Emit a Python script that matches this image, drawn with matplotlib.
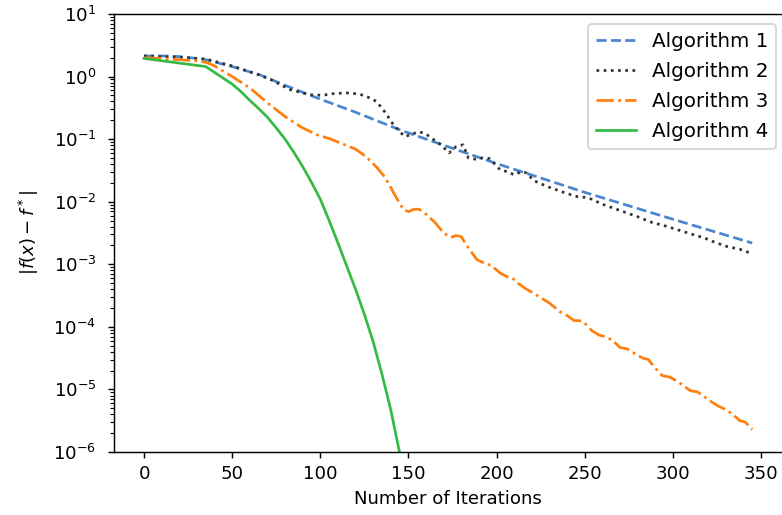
import matplotlib
matplotlib.use('Agg')
import matplotlib.pyplot as plt
import numpy as np

# iterations and log10(|f(x) - f*|)
alg1_iter = [0, 10, 20, 30, 35, 50, 66, 80, 98, 120, 145, 159, 200, 250, 300, 345]
alg1_exp = [0.33, 0.33, 0.32, 0.29, 0.27, 0.16, 0.025, -0.14, -0.34, -0.57,
            -0.85, -0.99, -1.39, -1.85, -2.28, -2.66]

alg2_iter = [0, 10, 20, 30, 35, 50, 66, 72, 83, 94, 101, 108, 117, 125, 132,
             137, 141, 145, 148, 152, 156, 160, 164, 168, 173, 177, 181, 184,
             188, 192, 196, 202, 206, 210, 214, 217, 221, 224, 229, 234, 240,
             246, 250, 254, 260, 266, 272, 280, 288, 296, 304, 312, 318, 323,
             330, 338, 345]
alg2_exp = [0.33, 0.32, 0.31, 0.29, 0.28, 0.17, 0.02, -0.05, -0.21, -0.29,
            -0.30, -0.27, -0.26, -0.30, -0.40, -0.58, -0.75, -0.88, -0.96,
            -0.92, -0.88, -0.92, -1.00, -1.08, -1.22, -1.12, -1.09, -1.30,
            -1.32, -1.30, -1.31, -1.49, -1.52, -1.57, -1.52, -1.54, -1.66,
            -1.70, -1.76, -1.81, -1.87, -1.92, -1.93, -1.96, -2.04, -2.10,
            -2.16, -2.24, -2.33, -2.39, -2.46, -2.53, -2.58, -2.64, -2.71,
            -2.76, -2.83]

alg3_iter = [0, 10, 20, 30, 35, 40, 50, 60, 70, 80, 90, 98, 105, 113, 120,
             126, 132, 137, 142, 147, 150, 153, 156, 160, 165, 170, 174, 177,
             180, 184, 189, 193, 197, 202, 206, 209, 212, 216, 219, 222, 226,
             230, 236, 240, 244, 247, 250, 254, 258, 262, 266, 270, 274, 278,
             283, 286, 290, 294, 298, 302, 306, 310, 314, 318, 322, 326, 330,
             334, 338, 341, 345]
alg3_exp = [0.30, 0.29, 0.27, 0.25, 0.23, 0.17, 0.00, -0.18, -0.42, -0.64,
            -0.82, -0.93, -0.99, -1.08, -1.16, -1.28, -1.45, -1.62, -1.88,
            -2.12, -2.16, -2.12, -2.12, -2.20, -2.33, -2.50, -2.57, -2.54,
            -2.56, -2.74, -2.93, -2.98, -3.02, -3.14, -3.20, -3.22, -3.30,
            -3.38, -3.43, -3.48, -3.55, -3.62, -3.76, -3.82, -3.90, -3.90,
            -3.94, -4.06, -4.13, -4.16, -4.22, -4.33, -4.35, -4.42, -4.50,
            -4.52, -4.66, -4.78, -4.80, -4.86, -4.94, -5.02, -5.04, -5.12,
            -5.20, -5.27, -5.32, -5.40, -5.50, -5.52, -5.64]

alg4_iter = [0, 35, 50, 55, 60, 65, 70, 75, 80, 85, 90, 95, 100, 105, 110,
             115, 120, 125, 130, 135, 140, 146]
alg4_exp = [0.29, 0.16, -0.12, -0.24, -0.38, -0.51, -0.65, -0.82, -1.00,
            -1.21, -1.44, -1.69, -1.96, -2.30, -2.66, -3.03, -3.40, -3.80,
            -4.24, -4.76, -5.33, -6.15]

labels = ['Algorithm 1', 'Algorithm 2', 'Algorithm 3', 'Algorithm 4']

fig = plt.figure(figsize=(6, 515 / (782 / 6)), dpi=782 / 6)
ax = fig.add_axes([0.1453, 0.1223, 0.8555, 0.8505])

ax.plot(alg1_iter, 10.0 ** np.array(alg1_exp), '--', color='#4a86cf', label=labels[0])
ax.plot(alg2_iter, 10.0 ** np.array(alg2_exp), ':', color='#333333', label=labels[1])
ax.plot(alg3_iter, 10.0 ** np.array(alg3_exp), '-.', color='#ff7f0e', label=labels[2])
ax.plot(alg4_iter, 10.0 ** np.array(alg4_exp), '-', color='#33bb44', label=labels[3])

ax.set_yscale('log')
ax.set_ylim(1e-6, 1e1)
ax.set_xlim(-17.25, 362.25)
ax.set_xticks([0, 50, 100, 150, 200, 250, 300, 350])
ax.tick_params(axis='y', pad=6)
ax.spines['right'].set_visible(False)
ax.set_xlabel('Number of Iterations')
ax.set_ylabel(r'$|f(x) - f^*|$', labelpad=7)

ax.legend(loc='upper right', fontsize=11, labelspacing=0.55,
          bbox_to_anchor=(776 / 782, 1 - 24 / 515),
          bbox_transform=fig.transFigure, borderaxespad=0)

fig.savefig('out.png', dpi=782 / 6)
